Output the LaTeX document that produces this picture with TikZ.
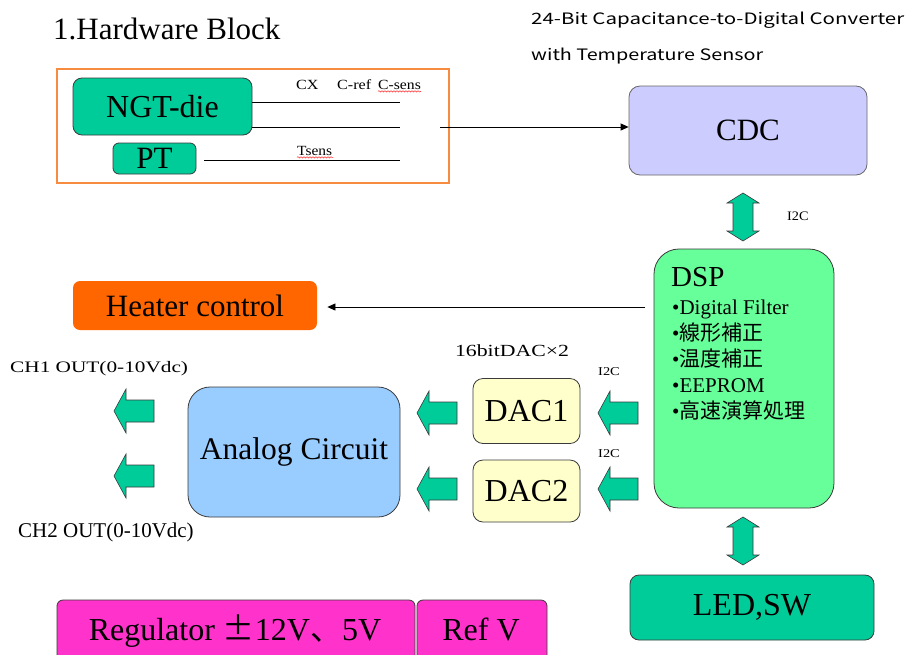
\documentclass[tikz,border=0pt]{standalone}
\usepackage{fontspec}
\setmainfont{Liberation Serif}
\newfontfamily\jpfont{Noto Sans CJK JP}
\usetikzlibrary{arrows.meta,decorations.pathmorphing}

\definecolor{tealbox}{HTML}{00CC99}
\definecolor{dspgreen}{HTML}{66FF99}
\definecolor{cdcblue}{HTML}{CCCCFF}
\definecolor{heaterorange}{HTML}{FF6600}
\definecolor{dacyellow}{HTML}{FFFFCC}
\definecolor{analogblue}{HTML}{99CCFF}
\definecolor{powermagenta}{HTML}{FF33CC}
\definecolor{frameorange}{rgb}{0.97,0.55,0.25}
\definecolor{edgegray}{HTML}{3A3A3A}

\newcommand\fsz[1]{\fontsize{#1}{#1}\selectfont}

\begin{document}
\begin{tikzpicture}[x=1pt,y=-1pt,
  box/.style={draw=edgegray, line width=0.8pt, rounded corners=9pt,
    inner sep=0pt, align=center},
  arrowfill/.style={draw=edgegray, line width=0.6pt, fill=tealbox},
  wire/.style={line width=0.8pt},
  sig/.style={line width=0.8pt, -{Triangle[length=8pt,width=7pt]}},
  squiggle/.style={red, line width=0.4pt, decorate,
    decoration={snake, amplitude=0.7pt, segment length=3pt}},
  larrow/.pic={\draw[arrowfill] (-20,0) -- (-8,-22) -- (-8,-11) -- (20,-11)
    -- (20,11) -- (-8,11) -- (-8,22) -- cycle;},
  vdarrow/.pic={\draw[arrowfill] (0,-24) -- (16,-14) -- (10,-14) -- (10,14)
    -- (16,14) -- (0,24) -- (-16,14) -- (-10,14) -- (-10,-14) -- (-16,-14) -- cycle;}
]
\clip (0,0) rectangle (909,654);
\useasboundingbox (0,0) rectangle (909,654);

% headings
\node[anchor=base west, inner sep=0pt, font=\fsz{31}] (title) at (53,39) {1.Hardware Block};
\node[anchor=base west, inner sep=0pt] (cdcname1) at (531,24)
  {\resizebox{373pt}{12.5pt}{\jpfont 24-Bit Capacitance-to-Digital Converter}};
\node[anchor=base west, inner sep=0pt] (cdcname2) at (531,60)
  {\resizebox{232pt}{12.5pt}{\jpfont with Temperature Sensor}};

% sensor frame
\draw[draw=frameorange, line width=1.2pt] (57,69) rectangle (449,183);
\node[box, fill=tealbox, minimum width=179pt, minimum height=57pt, font=\fsz{32}]
  (ngt) at (162.5,106.5) {NGT-die};
\node[box, rounded corners=6pt, fill=tealbox, minimum width=83pt, minimum height=31pt,
  font=\fsz{31}] (pt) at (154.5,158.5) {PT};

\coordinate (cxend) at (400,102);
\coordinate (crefend) at (400,127);
\coordinate (tsstart) at (204,160);
\coordinate (tsend) at (400,160);
\draw[wire] (ngt.east |- cxend) -- (cxend);
\draw[wire] (ngt.east |- crefend) -- (crefend);
\draw[wire] (tsstart) -- (tsend);

\node[anchor=base west, inner sep=0pt, font=\fsz{14}] (lcx) at (296,89) {\scalebox{1.15}[1]{CX}};
\node[anchor=base west, inner sep=0pt, font=\fsz{14}] (lcref) at (337,89) {\scalebox{1.15}[1]{C-ref}};
\node[anchor=base west, inner sep=0pt, font=\fsz{14}] (lcsens) at (378,89) {\scalebox{1.12}[1]{C-sens}};
\node[anchor=base west, inner sep=0pt, font=\fsz{14}] (lts) at (297,155) {\scalebox{1.1}[1]{Tsens}};
\draw[squiggle] (lcsens.south west) ++(0,2) -- ++(43,0);
\draw[squiggle] (lts.south west) ++(0,2) -- ++(36,0);

% converter and processor
\node[box, draw=black!60, rounded corners=11pt, fill=cdcblue, minimum width=238pt,
  minimum height=89pt, font=\fsz{31}] (cdc) at (748,130.5) {CDC};
\coordinate (bus) at (440,127);
\draw[sig] (bus) -- (bus -| cdc.west);

\node[box, rounded corners=25pt, fill=dspgreen, minimum width=180pt, minimum height=259pt]
  (dsp) at (744,378.5) {};
\node[anchor=base west, inner sep=0pt, font=\fsz{29}] (dsptitle) at (671,286) {DSP};
\node[anchor=base west, inner sep=0pt, font=\fsz{21}] (f1) at (672,314) {•Digital Filter};
\node[anchor=base west, inner sep=0pt, font=\fsz{21}] (f2) at (672,340) {•{\jpfont 線形補正}};
\node[anchor=base west, inner sep=0pt, font=\fsz{21}] (f3) at (672,366) {•{\jpfont 温度補正}};
\node[anchor=base west, inner sep=0pt, font=\fsz{21}] (f4) at (672,392) {•EEPROM};
\node[anchor=base west, inner sep=0pt, font=\fsz{21}] (f5) at (672,418) {•{\jpfont 高速演算処理}};

\pic at (743,217) {vdarrow};
\node[anchor=base west, inner sep=0pt, font=\fsz{13}] (i2ctop) at (787,220) {\scalebox{1.1}[1]{I2C}};

\node[box, fill=tealbox, minimum width=244pt, minimum height=65pt, font=\fsz{32}]
  (led) at (752,607.5) {LED,SW};
\pic at (743,541) {vdarrow};

% heater output
\node[box, draw=none, rounded corners=7pt, fill=heaterorange, minimum width=244pt,
  minimum height=49pt, font=\fsz{31}] (heater) at (195,305.5) {Heater control};
\coordinate (heatsrc) at (645,307);
\draw[sig] (heatsrc) -- ([xshift=10pt]heatsrc -| heater.east);

% analog outputs
\node[anchor=base, inner sep=0pt, font=\fsz{17}] (daclbl) at (512,356) {\scalebox{1.28}[1]{16bitDAC×2}};
\node[box, rounded corners=10pt, fill=dacyellow, minimum width=107pt, minimum height=65pt,
  font=\fsz{32}] (dac1) at (526.5,411) {DAC1};
\node[box, rounded corners=10pt, fill=dacyellow, minimum width=107pt, minimum height=62pt,
  font=\fsz{32}] (dac2) at (526.5,491) {DAC2};
\node[anchor=base west, inner sep=0pt, font=\fsz{12}] (i2c1) at (598,375) {\scalebox{1.2}[1]{I2C}};
\node[anchor=base west, inner sep=0pt, font=\fsz{12}] (i2c2) at (598,457) {\scalebox{1.2}[1]{I2C}};
\pic at (618,413) {larrow};
\pic at (618,489) {larrow};

\node[box, rounded corners=22pt, fill=analogblue, minimum width=212pt, minimum height=130pt,
  font=\fsz{31.5}] (analog) at (294,452) {Analog Circuit};
\pic at (437,413) {larrow};
\pic at (437,489) {larrow};

\pic at (134,411) {larrow};
\pic at (134,476) {larrow};
\node[anchor=base west, inner sep=0pt, font=\fsz{16}] (ch1) at (10,372) {\scalebox{1.33}[1]{CH1 OUT(0-10Vdc)}};
\node[anchor=base west, inner sep=0pt, font=\fsz{21}] (ch2) at (18,537) {CH2 OUT(0-10Vdc)};

% power supply
\node[box, rounded corners=6pt, fill=powermagenta, minimum width=358pt, minimum height=70pt]
  (reg) at (236,635) {};
\node[box, rounded corners=6pt, fill=powermagenta, minimum width=130pt, minimum height=70pt]
  (refv) at (482,635) {};
\node[anchor=base, inner sep=0pt, font=\fsz{32}] (reglbl) at (235,640)
  {Regulator {\jpfont ±}12V{\jpfont 、}5V};
\node[anchor=base, inner sep=0pt, font=\fsz{32}] (refvlbl) at (481,640) {Ref V};
\end{tikzpicture}
\end{document}
